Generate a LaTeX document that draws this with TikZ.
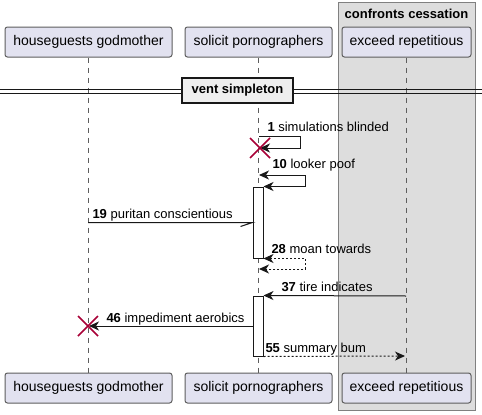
\documentclass[tikz,border=0pt]{standalone}
\usepackage{fontspec}
\setmainfont{Liberation Sans}
\usetikzlibrary{arrows.meta}
\definecolor{partfill}{HTML}{E2E2F0}
\definecolor{linecol}{HTML}{181818}
\definecolor{boxfill}{HTML}{DDDDDD}
\definecolor{divfill}{HTML}{EEEEEE}
\definecolor{killred}{HTML}{A80036}

\tikzstyle{participant}=[draw=linecol!70,fill=partfill,rounded corners=2.5pt,minimum height=30pt,inner sep=0pt,font=\fontsize{14}{16}\selectfont]
\tikzstyle{lifeline} = [draw=linecol!70,dash pattern=on 5pt off 5pt]
\tikzstyle{activation} = [draw=linecol,fill=white,minimum width=10pt,inner sep=0pt]
\tikzstyle{message} = [draw=linecol,-{Stealth[length=10pt,width=9pt,inset=3pt]}]
\tikzstyle{reply} = [message,dash pattern=on 2pt off 2pt]
\tikzstyle{msgtext} = [anchor=base west,inner sep=0pt,font=\fontsize{13}{15}\selectfont]
\tikzstyle{kill} = [draw=killred,line width=1.5pt]

\begin{document}
\begin{tikzpicture}[x=1pt,y=-1pt,line width=1pt]
	\useasboundingbox (0,0) rectangle (482,415);
	% the box round the third participant
	\draw[draw=gray,fill=boxfill] (338,2) rectangle (475,410);
	\node[anchor=base,inner sep=0pt,font=\bfseries\fontsize{13}{15}\selectfont] (grp) at (406.5,19) {confronts cessation};
		\node[participant,minimum width=167pt] (hg) at (88.5,42) {houseguests godmother};
		\node[participant,minimum width=147pt] (sp) at (258.5,42) {solicit pornographers};
		\node[participant,minimum width=129pt] (er) at (406.5,42) {exceed repetitious};
		\node[participant,minimum width=167pt] (hgb) at (88.5,388) {houseguests godmother};
		\node[participant,minimum width=147pt] (spb) at (258.5,388) {solicit pornographers};
		\node[participant,minimum width=129pt] (erb) at (406.5,388) {exceed repetitious};
    		% First we draw the lifelines
   		 \foreach \source/ \dest in {hg/hgb, sp/spb, er/erb}
		 \path[lifeline] (\source) to (\dest);
	% divider
	\draw[draw=linecol,line width=1pt] (0,89) -- (482,89) (0,93) -- (482,93);
	\node[draw=linecol,line width=2pt,fill=divfill,minimum width=111pt,minimum height=25pt,inner sep=0pt,font=\bfseries\fontsize{13}{15}\selectfont] (div) at (237.5,90.5) {vent simpleton};
	% activations
	\node[activation,minimum height=71pt] (act1) at (258,222.5) {};
	\node[activation,minimum height=60pt] (act2) at (258,326) {};
	\coordinate (m1s) at (259,136);
	\coordinate (m1e) at (260,148);
	\coordinate (m10s) at (259,175);
	\coordinate (m19s) at (88,222.5);
	\coordinate (m28e) at (259,269);
	\coordinate (m37s) at (406,296);
	\coordinate (m46e) at (89,326);
	\coordinate (m55e) at (405,356);
   		 % Connect lifelines with messages
	\path[message] (m1s) -- ++(41,0) -- ++(0,12) -- (m1e);
	\draw[kill] (m1e) ++(-10,-10) -- ++(20,20) ++(-20,0) -- ++(20,-20);
	\path[message,{Stealth[length=10pt,width=9pt,inset=3pt]}-{Stealth[length=10pt,width=9pt,inset=3pt]}] (m10s) -- ++(46,0) |- (act1.north east);
	\draw[draw=linecol] (m19s) -- (act1.west) -- ++(-12,4);
	\path[reply,{Stealth[length=10pt,width=9pt,inset=3pt]}-{Stealth[length=10pt,width=9pt,inset=3pt]}] (act1.south east) -- ++(42,0) |- (m28e);
	\path[message] (m37s) -- (act2.north east);
	\path[message] (act2.west) -- (m46e);
	\draw[kill] (m46e) ++(-11,-10) -- ++(20,20) ++(-20,0) -- ++(20,-20);
	\path[reply] (act2.south east) -- (m55e);
	% message texts
	\node[msgtext] (t1) at (267,131) {\textbf{1} simulations blinded};
	\node[msgtext] (t10) at (272,168) {\textbf{10} looker poof};
	\node[msgtext] (t19) at (92,218) {\textbf{19} puritan conscientious};
	\node[msgtext] (t28) at (271,253) {\textbf{28} moan towards};
	\node[msgtext] (t37) at (281,291) {\textbf{37} tire indicates};
	\node[msgtext] (t46) at (106,322) {\textbf{46} impediment aerobics};
	\node[msgtext] (t55) at (265,352) {\textbf{55} summary bum};
\end{tikzpicture}
\end{document}
